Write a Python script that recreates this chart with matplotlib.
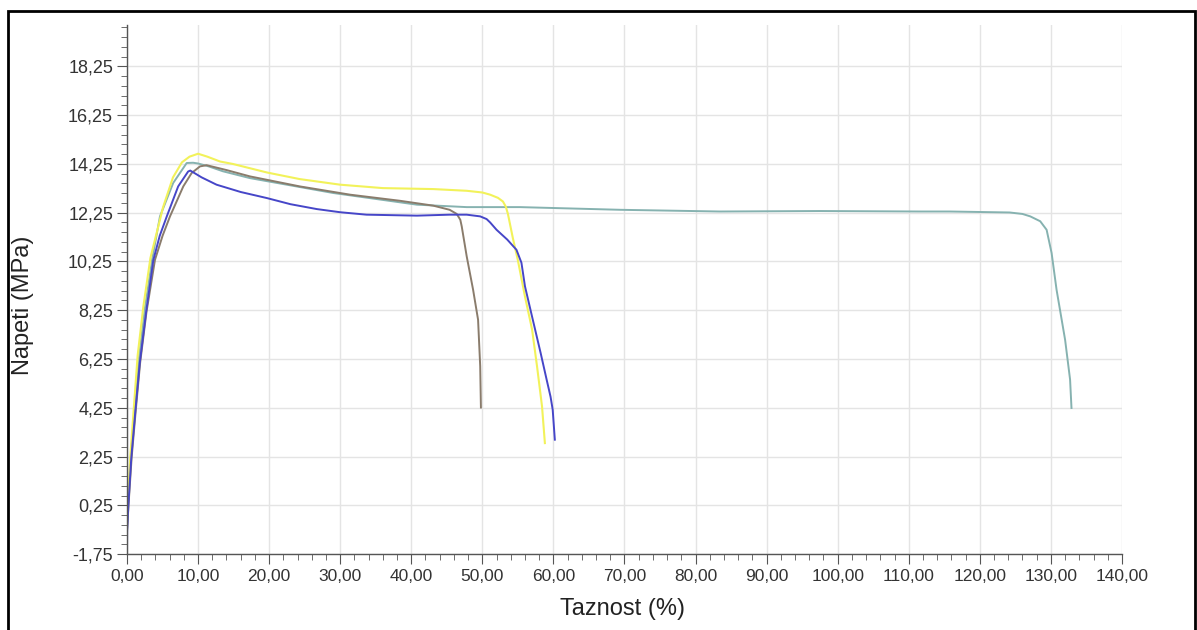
import numpy as np
import matplotlib.pyplot as plt
from matplotlib.patches import Rectangle
from matplotlib.ticker import MultipleLocator, FixedLocator, FuncFormatter

plt.rcParams['font.family'] = ['Liberation Sans', 'DejaVu Sans']

# Krivulje napetost - raztezek (odcitano s slike)
rumena_x = [0, 0.15, 0.5, 1.0, 1.5, 2.3, 3.3, 5.07, 6.47, 7.74, 8.8, 10.0, 11.3, 13.1, 14.9, 19.7,
            24.3, 30.0, 36.0, 43.1, 47.8, 50.0, 51.1, 52.2, 52.9, 53.3, 53.6, 54.3, 55.0, 56.0,
            57.0, 57.7, 58.4, 58.8]
rumena_y = [-0.3, 0.6, 2.4, 4.4, 6.4, 8.4, 10.4, 12.47, 13.7, 14.32, 14.55, 14.67, 14.55, 14.35, 14.25, 13.9,
            13.63, 13.4, 13.26, 13.22, 13.15, 13.08, 12.99, 12.86, 12.71, 12.5, 12.2, 11.2, 10.3, 8.81,
            7.46, 5.94, 4.3, 2.8]

modra_x = [0, 0.02, 0.2, 0.6, 1.2, 1.8, 2.7, 3.7, 4.6, 5.6, 7.2, 8.6, 8.9, 10.5, 12.6, 16.0, 19.7,
           23.0, 26.7, 30.0, 33.7, 40.8, 45.4, 47.8, 49.7, 50.6, 51.1, 52.0, 53.5, 54.8, 55.5,
           56.0, 57.1, 58.2, 59.05, 59.6, 59.9, 60.2]
modra_y = [-1.75, -0.8, 0.3, 2.2, 4.2, 6.1, 8.2, 10.3, 11.3, 12.1, 13.33, 13.94, 13.98, 13.7, 13.4, 13.1, 12.85,
           12.6, 12.4, 12.27, 12.17, 12.13, 12.17, 12.17, 12.1, 11.99, 11.85, 11.55, 11.15, 10.73, 10.2,
           9.23, 7.86, 6.5, 5.4, 4.7, 4.17, 2.94]

rjava_x = [0, 0.2, 0.65, 1.25, 1.85, 2.75, 3.94, 5.0, 6.05, 7.92, 9.1, 10.27, 11.2, 14.0, 17.3, 24.3,
           31.4, 38.4, 43.1, 45.4, 46.4, 46.9, 47.1, 47.8, 48.7, 49.4, 49.7, 49.8]
rjava_y = [-0.8, 0.2, 2.2, 4.2, 6.1, 8.2, 10.32, 11.3, 12.1, 13.33, 13.88, 14.15, 14.2, 14.0, 13.74, 13.33,
           12.99, 12.74, 12.54, 12.37, 12.2, 11.96, 11.69, 10.46, 9.09, 7.86, 5.95, 4.26]

turkizna_x = [0, 0.15, 0.55, 1.1, 1.65, 2.5, 3.55, 4.64, 6.5, 8.4, 9.3, 10.0, 11.5, 13.5, 17.3, 29.0,
              40.8, 47.8, 55.3, 69.4, 83.4, 97.5, 111.6, 115.8, 124.2, 126.0, 127.1, 128.5, 129.4,
              130.1, 130.8, 132.0, 132.7, 132.9]
turkizna_y = [-0.6, 0.3, 2.3, 4.3, 6.2, 8.3, 10.35, 12.1, 13.47, 14.29, 14.3, 14.27, 14.15, 13.95, 13.67, 13.06,
              12.58, 12.48, 12.48, 12.37, 12.3, 12.32, 12.3, 12.3, 12.26, 12.2, 12.1, 11.9, 11.55,
              10.6, 9.09, 7.04, 5.41, 4.24]

y_oznake = [-1.75, 0.25, 2.25, 4.25, 6.25, 8.25, 10.25, 12.25, 14.25, 16.25, 18.25]
x_oznake = [0, 10, 20, 30, 40, 50, 60, 70, 80, 90, 100, 110, 120, 130, 140]

fig = plt.figure(figsize=(11.97, 6.30), dpi=100)
ax = fig.add_axes([0.1061, 0.1206, 0.8312, 0.8397])

ax.plot(turkizna_x, turkizna_y, color='#86b2b0', lw=1.4)
ax.plot(rjava_x, rjava_y, color='#8a7c6c', lw=1.4)
ax.plot(rumena_x, rumena_y, color='#f2f25a', lw=1.5)
ax.plot(modra_x, modra_y, color='#4646c8', lw=1.4)

ax.set_xlim(0, 140)
ax.set_ylim(-1.75, 19.95)

ax.xaxis.set_major_locator(FixedLocator(x_oznake))
ax.xaxis.set_minor_locator(MultipleLocator(2))
ax.yaxis.set_major_locator(FixedLocator(y_oznake))
ax.yaxis.set_minor_locator(FixedLocator(np.arange(-1.75, 20.0, 0.4)))
ax.xaxis.set_major_formatter(FuncFormatter(lambda v, p: ('%.2f' % v).replace('.', ',')))
ax.yaxis.set_major_formatter(FuncFormatter(lambda v, p: ('%.2f' % v).replace('.', ',')))

ax.grid(True, which='major', color='#e4e4e4', lw=1)
ax.set_axisbelow(True)
for s in ['top', 'right']:
    ax.spines[s].set_visible(False)
for s in ['left', 'bottom']:
    ax.spines[s].set_color('#555555')
    ax.spines[s].set_linewidth(1)

ax.tick_params(which='major', direction='out', length=7, color='#555555', labelsize=12.5,
               labelcolor='#333333')
ax.tick_params(axis='y', labelsize=13)
ax.tick_params(which='minor', direction='out', length=4, color='#555555')
ax.tick_params(axis='y', pad=3)
ax.tick_params(axis='x', pad=4)

ax.set_xlabel('Taznost (%)', fontsize=17, color='#222222')
ax.set_ylabel('Napeti (MPa)', fontsize=17, color='#222222')
ax.xaxis.set_label_coords(0.498, -0.083)
ax.yaxis.set_label_coords(-0.093, 0.47)

# okvir okoli slike (spodnji rob je odrezan)
fig.add_artist(Rectangle((8, -20), 1187, 630 - 11 + 20, transform=None, fill=False,
                         edgecolor='black', lw=2))

plt.savefig('out.png', dpi=100)
